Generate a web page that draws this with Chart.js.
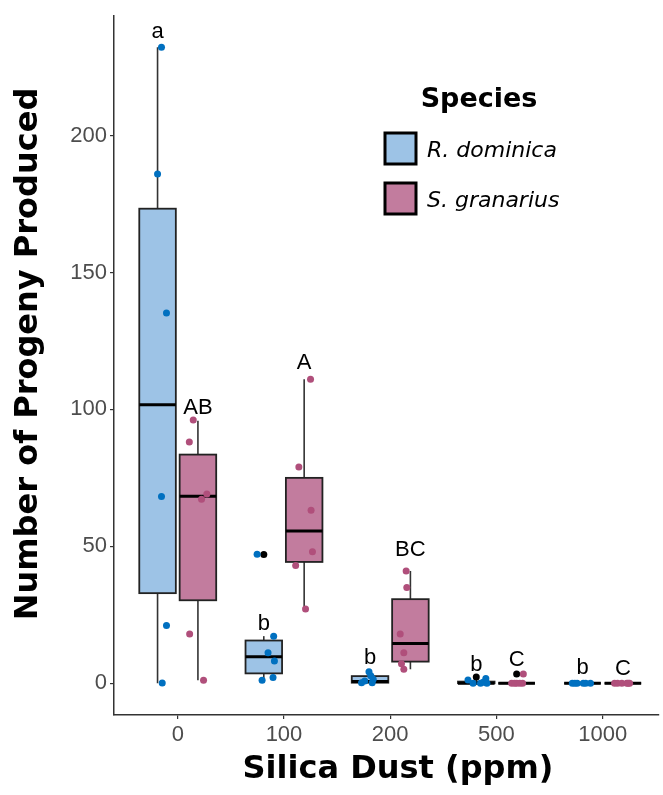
<!DOCTYPE html>
<html>
<head>
<meta charset="utf-8">
<script src="https://cdn.jsdelivr.net/npm/chart.js@4.4.1/dist/chart.umd.min.js"></script>
<style>
html, body { margin: 0; padding: 0; background: #fff; }
#wrap { width: 663px; height: 795px; }
</style>
</head>
<body>
<div id="wrap"><canvas id="chart" width="663" height="795"></canvas></div>
<script>
const doses = ['0', '100', '200', '500', '1000'];
const species = ['R. dominica', 'S. granarius'];
const yTicks = [0, 50, 100, 150, 200];

// box stats per dose: [low whisker, q1, median, q3, high whisker]
const rdBoxes = [
  [0, 32.9, 101.7, 173.3, 232.3],
  [0.8, 3.6, 9.7, 15.6, 17.2],
  [0, 0.2, 0.6, 2.6, 4.2],
  [0, 0, 0, 0.6, 1.2],
  [0, 0, 0, 0, 0]
];
const sgBoxes = [
  [1.1, 30.3, 68.3, 83.5, 95.9],
  [27.1, 44.3, 55.6, 75.0, 111],
  [5.1, 7.9, 14.5, 30.7, 41],
  [0, 0, 0, 0, 0],
  [0, 0, 0, 0, 0]
];

// outliers (drawn black at box centre)
const rdOutliers = [[], [47], [], [2.3], []];
const sgOutliers = [[], [], [], [3.4], []];

// raw observations and their horizontal jitter (in dose units)
const rdPoints = [
  [232.3, 186, 135.2, 68.2, 21.1, 0.1],
  [47.1, 17.2, 11.1, 8.1, 2.1, 1.1],
  [4.2, 2.7, 1.5, 0.8, 0.2, 0.2],
  [1.7, 1.2, 0.4, 0, 0, 0],
  [0, 0, 0, 0, 0, 0]
];
const rdJitter = [
  [0.037, 0, 0.084, 0.037, 0.084, 0.044],
  [-0.063, 0.093, 0.04, 0.1, 0.087, -0.016],
  [-0.01, 0.007, 0.03, -0.05, -0.08, 0.02],
  [0.09, -0.078, 0.065, 0.04, 0.1, -0.03],
  [-0.096, -0.072, 0.007, 0.075, -0.05, 0.03]
];
const sgPoints = [
  [96.1, 88.1, 69.1, 67.2, 18.0, 1.1],
  [111, 79.0, 63.2, 48.0, 43.0, 27.1],
  [41, 35, 18, 11.1, 7.1, 5.1],
  [3.4, 0, 0, 0, 0, 0],
  [0, 0, 0, 0, 0, 0]
];
const sgJitter = [
  [-0.044, -0.081, 0.084, 0.034, -0.078, 0.053],
  [0.06, -0.05, 0.065, 0.078, -0.08, 0.013],
  [-0.04, -0.034, -0.096, -0.062, -0.084, -0.062],
  [0.063, -0.047, 0, 0.056, -0.02, 0.03],
  [-0.078, -0.01, 0.037, 0.063, -0.05, 0.05]
];

// significance letters and the y value of their baseline
const rdLetters = ['a', 'b', 'b', 'b', 'b'];
const rdLetterY = [235.7, 19.6, 6.9, 4.5, 3.3];
const sgLetters = ['AB', 'A', 'BC', 'C', 'C'];
const sgLetterY = [98.5, 114.6, 46.5, 6.3, 2.9];

const dodge = [-0.19, 0.19];
const halfBox = 0.172;
const boxFill = ['#9dc3e6', '#c27c9e'];
const pointColor = ['#0070c0', '#b04f7b'];
const tickFont = '"Liberation Sans", Arial, sans-serif';
const titleFont = '"DejaVu Sans", sans-serif';

function toXY(vals, jit, off) {
  const out = [];
  vals.forEach((g, i) => g.forEach((v, k) => out.push({ x: i + off + (jit ? jit[i][k] : 0), y: v })));
  return out;
}

const boxPlugin = {
  id: 'boxes',
  beforeDatasetsDraw(chart) {
    const { ctx, scales: { x, y } } = chart;
    [rdBoxes, sgBoxes].forEach((boxes, s) => {
      boxes.forEach((b, i) => {
        const cx = x.getPixelForValue(i + dodge[s]);
        const l = x.getPixelForValue(i + dodge[s] - halfBox);
        const r = x.getPixelForValue(i + dodge[s] + halfBox);
        const lo = y.getPixelForValue(b[0]), q1 = y.getPixelForValue(b[1]);
        const md = y.getPixelForValue(b[2]), q3 = y.getPixelForValue(b[3]);
        const hi = y.getPixelForValue(b[4]);
        ctx.save();
        ctx.strokeStyle = '#333';
        ctx.lineWidth = 1.6;
        ctx.beginPath();
        ctx.moveTo(cx, lo); ctx.lineTo(cx, hi);
        ctx.stroke();
        ctx.fillStyle = boxFill[s];
        ctx.fillRect(l, q3, r - l, q1 - q3);
        ctx.strokeStyle = '#222';
        ctx.lineWidth = 1.8;
        ctx.strokeRect(l, q3, r - l, q1 - q3);
        ctx.strokeStyle = '#000';
        ctx.lineWidth = 3;
        ctx.beginPath();
        ctx.moveTo(l, md); ctx.lineTo(r, md);
        ctx.stroke();
        ctx.restore();
      });
    });
  },
  afterDraw(chart) {
    const { ctx, scales: { x, y } } = chart;
    ctx.save();
    // letters
    ctx.fillStyle = '#000';
    ctx.font = '22px ' + tickFont;
    ctx.textAlign = 'center';
    ctx.textBaseline = 'alphabetic';
    [[rdLetters, rdLetterY], [sgLetters, sgLetterY]].forEach(([labs, ys], s) => {
      labs.forEach((t, i) => {
        ctx.fillText(t, x.getPixelForValue(i + dodge[s]), y.getPixelForValue(ys[i]));
      });
    });
    // legend
    ctx.font = 'bold 27px ' + titleFont;
    ctx.fillText('Species', 479, 107);
    ctx.textAlign = 'left';
    ctx.font = 'oblique 22px ' + titleFont;
    const keyY = [133, 183];
    species.forEach((sp, s) => {
      ctx.fillStyle = boxFill[s];
      ctx.fillRect(385, keyY[s], 31, 31);
      ctx.strokeStyle = '#000';
      ctx.lineWidth = 3;
      ctx.strokeRect(385, keyY[s], 31, 31);
      ctx.fillStyle = '#000';
      ctx.fillText(sp, 427, keyY[s] + 24);
    });
    // axis titles
    ctx.font = 'bold 32px ' + titleFont;
    ctx.textAlign = 'center';
    ctx.fillText('Silica Dust (ppm)', 398, 778);
    ctx.translate(37, 354);
    ctx.rotate(-Math.PI / 2);
    ctx.fillText('Number of Progeny Produced', 0, 0);
    ctx.restore();
  }
};

const axisCommon = {
  grid: { display: true, drawOnChartArea: false, drawTicks: true, tickLength: 4, tickColor: '#333', lineWidth: 1.2 },
  border: { display: true, color: '#333', width: 1.5 }
};

new Chart(document.getElementById('chart'), {
  type: 'scatter',
  data: {
    datasets: [
      { label: 'outliers', data: toXY(rdOutliers, null, dodge[0]).concat(toXY(sgOutliers, null, dodge[1])),
        backgroundColor: '#000', borderWidth: 0, pointRadius: 3.5, order: 3 },
      { label: species[0], data: toXY(rdPoints, rdJitter, dodge[0]),
        backgroundColor: pointColor[0], borderWidth: 0, pointRadius: 3.5, order: 2 },
      { label: species[1], data: toXY(sgPoints, sgJitter, dodge[1]),
        backgroundColor: pointColor[1], borderWidth: 0, pointRadius: 3.5, order: 1 }
    ]
  },
  options: {
    responsive: false,
    animation: false,
    layout: { padding: { top: 13, right: 0, left: 0, bottom: 0 } },
    plugins: { legend: { display: false }, tooltip: { enabled: false } },
    scales: {
      x: {
        ...axisCommon,
        type: 'linear', min: -0.6, max: 4.53,
        afterBuildTicks: s => { s.ticks = doses.map((d, i) => ({ value: i })); },
        afterFit: s => { s.height = 80; },
        ticks: { callback: v => doses[v], padding: 3, color: '#4d4d4d', font: { size: 22, family: tickFont } }
      },
      y: {
        ...axisCommon,
        min: -11.6, max: 243.6,
        afterBuildTicks: s => { s.ticks = yTicks.map(v => ({ value: v })); },
        afterFit: s => { s.width = 114; },
        ticks: { padding: 3, color: '#4d4d4d', font: { size: 22, family: tickFont } }
      }
    }
  },
  plugins: [boxPlugin]
});
</script>
</body>
</html>
